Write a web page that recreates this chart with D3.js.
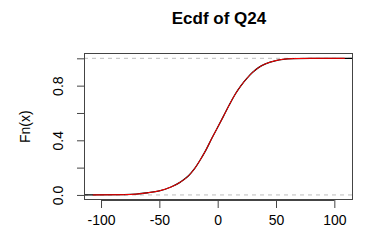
<!DOCTYPE html>
<html>
<head>
<meta charset="utf-8">
<script src="https://cdn.jsdelivr.net/npm/d3@7"></script>
<style>
  html, body { margin: 0; padding: 0; background: #fff; }
  svg { display: block; }
</style>
</head>
<body>
<svg id="chart" width="367" height="240"></svg>
<script>
// Data
const cdfX  = [-107, -80, -70, -60, -50, -40, -32, -25, -20, -15, -10, -5, 0, 5, 10, 15, 20, 25, 30, 35, 40, 45, 50, 56, 65, 80, 109];
const cdfFn = [0.000, 0.002, 0.006, 0.016, 0.030, 0.058, 0.094, 0.140, 0.190, 0.256, 0.330, 0.415, 0.495, 0.577, 0.660, 0.737, 0.800, 0.853, 0.898, 0.932, 0.956, 0.972, 0.984, 0.993, 0.998, 1.000, 1.000];
const xTicks = [-100, -50, 0, 50, 100];
const yTicks = [0.0, 0.2, 0.4, 0.6, 0.8, 1.0];
const yTickLabels = ["0.0", "", "0.4", "", "0.8", ""];
const titleText = "Ecdf of Q24";
const yLabel = "Fn(x)";
const xDomain = [-114.6, 116];
const yDomain = [-0.037, 1.039];

(function () {
const svg = d3.select("#chart");
const mL = 84, mR = 353, mT = 53, mB = 200;
const x = d3.scaleLinear().domain(xDomain).range([mL, mR]);
const y = d3.scaleLinear().domain(yDomain).range([mB, mT]);
const font = "'Liberation Sans', Arial, sans-serif";

// reference dashed lines
[0, 1].forEach(v => {
  svg.append("line")
    .attr("x1", mL).attr("x2", mR)
    .attr("y1", y(v)).attr("y2", y(v))
    .attr("stroke", "#bdbdbd").attr("stroke-width", 1)
    .attr("stroke-dasharray", "4,4");
});

const pts = cdfX.map((d, i) => [d, cdfFn[i]]);
const line = d3.line().x(d => x(d[0])).y(d => y(d[1])).curve(d3.curveMonotoneX);

// black ECDF (extends to plot edges)
const blackPts = [[xDomain[0], 0]].concat(pts, [[xDomain[1], 1]]);
svg.append("path").attr("d", line(blackPts))
  .attr("fill", "none").attr("stroke", "#000").attr("stroke-width", 1.3);

// red theoretical curve
svg.append("path").attr("d", line(pts))
  .attr("fill", "none").attr("stroke", "#ff0000").attr("stroke-width", 1);

// box
svg.append("rect")
  .attr("x", mL + 0.5).attr("y", mT + 0.5)
  .attr("width", mR - mL - 1).attr("height", mB - mT - 1)
  .attr("fill", "none").attr("stroke", "#444").attr("stroke-width", 1);

// x axis
const xAxis = d3.axisBottom(x).tickValues(xTicks).tickSize(8).tickPadding(7)
  .tickFormat(d3.format("d"));
const gx = svg.append("g").attr("transform", `translate(0,${mB})`).call(xAxis);
gx.select(".domain").attr("d", `M${x(xTicks[0])},0.5H${x(xTicks[xTicks.length-1])}`).attr("stroke", "#444");
gx.selectAll(".tick line").attr("stroke", "#444");
gx.selectAll(".tick text")
  .attr("font-family", font).attr("font-size", 14).attr("fill", "#000")
  .text(d => d < 0 ? "-" + Math.abs(d) : d);

// y axis
const yAxis = d3.axisLeft(y).tickValues(yTicks).tickSize(7).tickFormat((d, i) => yTickLabels[i]);
const gy = svg.append("g").attr("transform", `translate(${mL},0)`).call(yAxis);
gy.select(".domain").attr("d", `M0.5,${y(0)}V${y(1)}`).attr("stroke", "#444");
gy.selectAll(".tick line").attr("stroke", "#444");
gy.selectAll(".tick text")
  .attr("font-family", font).attr("font-size", 14).attr("fill", "#000")
  .attr("x", null).attr("dy", null)
  .attr("text-anchor", "middle")
  .attr("transform", "translate(-21,0) rotate(-90)");

// title
svg.append("text").attr("x", 219).attr("y", 24)
  .attr("text-anchor", "middle").attr("font-family", font)
  .attr("font-weight", "bold").attr("font-size", 17).text(titleText);

// y label
svg.append("text")
  .attr("transform", `translate(30,${(y(0)+y(1))/2}) rotate(-90)`)
  .attr("text-anchor", "middle").attr("font-family", font)
  .attr("font-size", 14).text(yLabel);
})();
</script>
</body>
</html>
